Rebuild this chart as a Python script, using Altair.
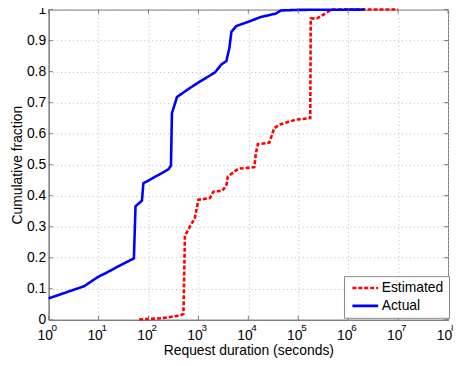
import altair as alt
import pandas as pd

# Actual request durations (seconds) and cumulative fraction
actual_dur = [1, 5.1, 10.2, 13.8, 24, 51, 55, 74, 79, 117, 251, 282, 295, 372, 631,
              1148, 2138, 2884, 3631, 4169, 4571, 5754, 9772, 17780, 35480, 44670,
              95500, 2140000]
actual_cdf = [0.069, 0.108, 0.14, 0.15, 0.171, 0.198, 0.366, 0.384, 0.44, 0.455, 0.485,
              0.497, 0.666, 0.718, 0.744, 0.771, 0.797, 0.823, 0.834, 0.876, 0.928,
              0.947, 0.96, 0.976, 0.987, 0.997, 0.999, 1.0]

# Estimated request durations (seconds) and cumulative fraction
est_dur = [65, 186, 427, 501, 537, 851, 1000, 1698, 1995, 3020, 3631, 3890, 6310,
           13180, 14130, 15490, 26300, 33110, 41690, 89130, 173800, 177800, 239900,
           467700, 10000000]
est_cdf = [0.001, 0.005, 0.014, 0.019, 0.271, 0.329, 0.387, 0.392, 0.413, 0.416, 0.434,
           0.462, 0.487, 0.492, 0.536, 0.566, 0.571, 0.618, 0.629, 0.645, 0.650, 0.971,
           0.972, 1.0, 1.0]

series = ["Estimated", "Actual"]
colors = ["#ff0000", "#0000ff"]
dashes = [[4, 2], [1, 0]]
x_ticks = [1, 10, 100, 1000, 10000, 100000, 1000000, 10000000, 100000000]
x_exponents = ["0", "1", "2", "3", "4", "5", "6", "7", "8"]
y_ticks = [0, 0.1, 0.2, 0.3, 0.4, 0.5, 0.6, 0.7, 0.8, 0.9, 1.0]

W, H = 403, 313
FONT = "Liberation Sans"
AXC = "#777777"

df_act = pd.DataFrame({"dur": actual_dur, "cdf": actual_cdf, "series": "Actual"})
df_est = pd.DataFrame({"dur": est_dur, "cdf": est_cdf, "series": "Estimated"})
df_xt = pd.DataFrame({"dur": x_ticks, "exp": x_exponents})
df_yt = pd.DataFrame({"cdf": y_ticks})

x_scale = alt.Scale(type="log", domain=[1, 1e8], nice=False)
y_scale = alt.Scale(domain=[0, 1], nice=False)

x_axis = alt.Axis(values=x_ticks, title="Request duration (seconds)",
                  labelExpr="'10'", labelOffset=-4,
                  labelPadding=9, titlePadding=1, ticks=False,
                  labelFlush=False, labelOverlap=False)
y_axis = alt.Axis(values=y_ticks, title="Cumulative fraction", format="~g",
                  labelPadding=3, titlePadding=2, ticks=False,
                  labelFlush=False, labelOverlap=False)

x_enc = alt.X("dur:Q", scale=x_scale, axis=x_axis)
y_enc = alt.Y("cdf:Q", scale=y_scale, axis=y_axis)

leg = alt.Legend(title=None, orient="none", legendX=298, legendY=269)
color_enc = alt.Color("series:N", scale=alt.Scale(domain=series, range=colors), legend=leg)
dash_enc = alt.StrokeDash("series:N", scale=alt.Scale(domain=series, range=dashes), legend=leg)

est_line = alt.Chart(df_est).mark_line(strokeWidth=2.6).encode(
    x=x_enc, y=y_enc, color=color_enc, strokeDash=dash_enc)
act_line = alt.Chart(df_act).mark_line(strokeWidth=2.6).encode(
    x=x_enc, y=y_enc, color=color_enc, strokeDash=dash_enc)

# superscript exponents of the x tick labels
exps = alt.Chart(df_xt).mark_text(font=FONT, fontSize=10, align="left", baseline="middle",
                                  dx=3, color="black").encode(
    x=x_enc, y=alt.value(H + 8), text="exp:N")

# inward tick marks (MATLAB style) on all four sides
tick_len = 4
xt_bot = alt.Chart(df_xt).mark_rule(color=AXC, strokeWidth=1).encode(
    x=x_enc, y=alt.value(H), y2=alt.value(H - tick_len))
xt_top = alt.Chart(df_xt).mark_rule(color=AXC, strokeWidth=1).encode(
    x=x_enc, y=alt.value(0), y2=alt.value(tick_len))
yt_left = alt.Chart(df_yt).mark_rule(color=AXC, strokeWidth=1).encode(
    y=y_enc, x=alt.value(0), x2=alt.value(tick_len))
yt_right = alt.Chart(df_yt).mark_rule(color=AXC, strokeWidth=1).encode(
    y=y_enc, x=alt.value(W), x2=alt.value(W - tick_len))

chart = alt.layer(est_line, act_line, xt_bot, xt_top, yt_left, yt_right, exps).properties(
    width=W, height=H,
    autosize=alt.AutoSizeParams(type="none"),
    padding={"left": 41, "top": 0, "right": 5, "bottom": 40},
).configure(
    font=FONT,
).configure_view(
    stroke=AXC, strokeWidth=1,
).configure_axis(
    labelFont=FONT, titleFont=FONT,
    labelFontSize=14, titleFontSize=14, titleFontWeight="normal",
    labelColor="black", titleColor="black",
    domainColor=AXC, domainWidth=1,
    grid=True, gridColor="#b8b8b8", gridDash=[1, 3], gridWidth=1, gridOpacity=1,
).configure_legend(
    labelFont=FONT, labelFontSize=14, labelColor="black",
    fillColor="white", strokeColor="#888888", padding=5, cornerRadius=0,
    symbolType="stroke", symbolSize=676, symbolStrokeWidth=2.6, symbolOffset=2,
    clipHeight=14, labelOffset=2, rowPadding=4,
)

chart.save("out.html", embed_options={"renderer": "svg", "actions": False})
